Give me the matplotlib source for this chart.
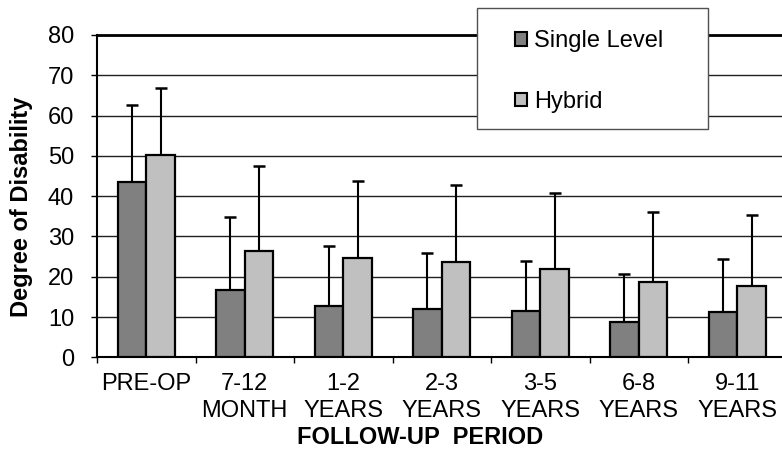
import matplotlib.pyplot as plt
from matplotlib.patches import Rectangle
import numpy as np

# data
periods = ["PRE-OP", "7-12\nMONTH", "1-2\nYEARS", "2-3\nYEARS", "3-5\nYEARS", "6-8\nYEARS", "9-11\nYEARS"]
single_mean = [43.6, 16.6, 12.7, 12.0, 11.5, 8.8, 11.3]
single_sd = [19.0, 18.3, 15.0, 13.8, 12.5, 11.9, 13.0]
hybrid_mean = [50.2, 26.4, 24.6, 23.6, 22.0, 18.8, 17.8]
hybrid_sd = [16.6, 21.1, 19.1, 19.1, 18.9, 17.2, 17.5]

plt.rcParams['font.family'] = ['Liberation Sans', 'DejaVu Sans']
fs = 17

fig = plt.figure(figsize=(7.82, 4.54), dpi=100)
ax = fig.add_axes([97 / 782, 1 - 357.3 / 454, 1 - 97 / 782, (357.3 - 35) / 454])

x = np.arange(len(periods))
w = 0.29

ax.bar(x - w / 2, single_mean, w, color='#808080', edgecolor='black', linewidth=1.6,
       label='Single Level', zorder=3)
ax.bar(x + w / 2, hybrid_mean, w, color='#c0c0c0', edgecolor='black', linewidth=1.6,
       label='Hybrid', zorder=3)
ax.errorbar(x - w / 2, single_mean, yerr=[np.zeros(len(x)), single_sd], fmt='none',
            ecolor='black', elinewidth=1.5, capsize=4, capthick=1.8, zorder=2)
ax.errorbar(x + w / 2, hybrid_mean, yerr=[np.zeros(len(x)), hybrid_sd], fmt='none',
            ecolor='black', elinewidth=1.5, capsize=4, capthick=1.8, zorder=2)

ax.set_ylim(0, 80)
ax.set_xlim(-0.5, -0.5 + 685 / 98.5)
ax.set_yticks(range(0, 81, 10))
ax.yaxis.grid(True, color='#202020', linewidth=1)
ax.set_axisbelow(True)

ax.set_xticks(x)
ax.set_xticklabels(periods, fontsize=fs, va='top', linespacing=1.3)
ax.set_xticks(np.arange(len(periods)) - 0.5, minor=True)
ax.tick_params(axis='x', which='major', length=0, pad=11)
ax.tick_params(axis='x', which='minor', length=4.5, width=1, direction='out')
ax.tick_params(axis='y', length=4.5, width=1, labelsize=fs, pad=12)

ax.spines['right'].set_visible(False)
ax.spines['top'].set_linewidth(2)
ax.spines['left'].set_linewidth(1.5)
ax.spines['bottom'].set_linewidth(1.5)

fig.text(22 / 782, 1 - 207 / 454, 'Degree of Disability', fontsize=fs, fontweight='bold',
         rotation=90, ha='center', va='center')
fig.text(420 / 782, 1 - 437 / 454, 'FOLLOW-UP  PERIOD', fontsize=fs,
         fontweight='bold', ha='center', va='center')

# legend box drawn separately so its padding matches the reference
ax.add_patch(Rectangle((476.7 / 782, 1 - 129 / 454), 231 / 782, 120.7 / 454,
                       transform=fig.transFigure, facecolor='white', clip_on=False,
                       edgecolor='#505050', linewidth=1, zorder=9))
leg = ax.legend(loc='upper left', bbox_to_anchor=(515 / 782, 1 - 30 / 454),
                bbox_transform=fig.transFigure, frameon=False, fontsize=fs,
                handlelength=0.52, handleheight=0.52, handletextpad=0.3,
                labelspacing=1.65, borderpad=0, borderaxespad=0)
for h in leg.legend_handles:
    h.set_linewidth(1.5)
leg.set_zorder(10)

fig.savefig('out.png', dpi=100)
